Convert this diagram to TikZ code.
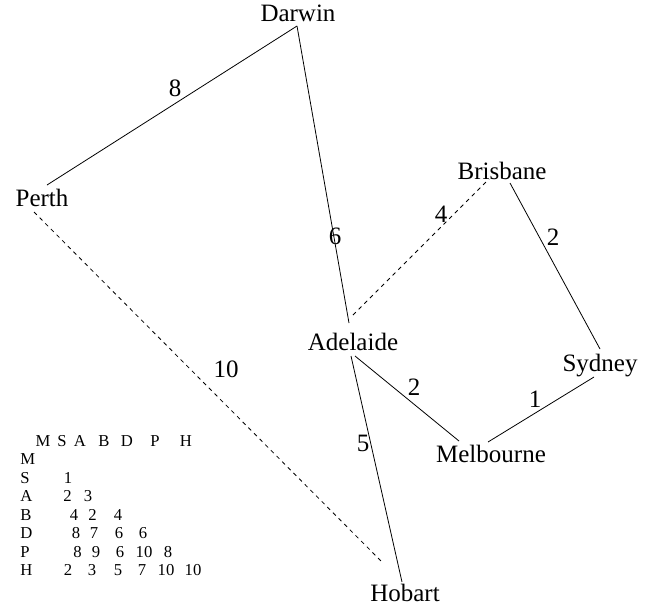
\documentclass[tikz,border=0pt]{standalone}
\usepackage{fontspec}
\setmainfont{Liberation Serif}
\begin{document}
\begin{tikzpicture}[x=0.75pt,y=-0.75pt,
  city/.style={anchor=base,inner sep=0pt,font=\fontsize{18.75}{22}\selectfont},
  wt/.style={inner sep=0pt,font=\fontsize{18.75}{22}\selectfont},
  tab/.style={anchor=base,inner sep=0pt,font=\fontsize{12.5}{14}\selectfont},
  road/.style={line width=0.6pt},
  sea/.style={line width=0.6pt,dash pattern=on 3pt off 3pt}]
\useasboundingbox (0,0) rectangle (655,608);
% cities
\node[city] (darwin) at (298,21) {Darwin};
\node[city] (perth) at (42,206) {Perth};
\node[city] (brisbane) at (502,179) {Brisbane};
\node[city] (adelaide) at (353,350) {Adelaide};
\node[city] (sydney) at (600,371) {Sydney};
\node[city] (melbourne) at (491,462) {Melbourne};
\node[city] (hobart) at (405,601) {Hobart};
% edges
\draw[road] ([shift={(-1,5)}]darwin.base) -- ([shift={(5,-21)}]perth.base);
\draw[road] ([shift={(-1,5)}]darwin.base) -- ([shift={(-4,-27)}]adelaide.base);
\draw[sea] ([shift={(-8,6)}]perth.base) -- ([shift={(-22,-38)}]hobart.base);
\draw[sea] ([shift={(0,-35)}]adelaide.base) -- ([shift={(-13,0)}]brisbane.base);
\draw[road] ([shift={(8,4)}]brisbane.base) -- ([shift={(0,-22)}]sydney.base);
\draw[road] ([shift={(-6,6)}]sydney.base) -- ([shift={(-3,-20)}]melbourne.base);
\draw[road] ([shift={(2,6)}]adelaide.base) -- ([shift={(-32,-21)}]melbourne.base);
\draw[road] ([shift={(-2,6)}]adelaide.base) -- ([shift={(-3,-19)}]hobart.base);
% weights
\node[wt] (w-dp) at (175,88) {8};
\node[wt] (w-da) at (335,236) {6};
\node[wt] (w-ab) at (441,214) {4};
\node[wt] (w-bs) at (553,237) {2};
\node[wt] (w-ph) at (226,369) {10};
\node[wt] (w-am) at (414,387) {2};
\node[wt] (w-sm) at (535,399) {1};
\node[wt] (w-ah) at (363,443) {5};
% distance table
\foreach \t/\x [count=\i] in {M/43,S/62,A/80,B/104,D/127,P/155,H/186}
  \node[tab] (th-\i) at (\x,446) {\t};
\foreach \t/\y [count=\i] in {M/464.5,S/483,A/501.5,B/520,D/538.5,P/557,H/575.5}
  \node[tab,anchor=base west] (tr-\i) at (20,\y) {\t};
\node[tab] (c-s1) at (68,483) {1};
\foreach \t/\x [count=\i] in {2/67.5,3/88}
  \node[tab] (c-a\i) at (\x,501.5) {\t};
\foreach \t/\x [count=\i] in {4/74,2/92.5,4/118}
  \node[tab] (c-b\i) at (\x,520) {\t};
\foreach \t/\x [count=\i] in {8/76,7/94,6/119,6/143}
  \node[tab] (c-d\i) at (\x,538.5) {\t};
\foreach \t/\x [count=\i] in {8/77.5,9/96,6/120,10/144,8/168}
  \node[tab] (c-p\i) at (\x,557) {\t};
\foreach \t/\x [count=\i] in {2/68,3/92,5/118,7/142,10/166,10/193}
  \node[tab] (c-h\i) at (\x,575.5) {\t};
\end{tikzpicture}
\end{document}
